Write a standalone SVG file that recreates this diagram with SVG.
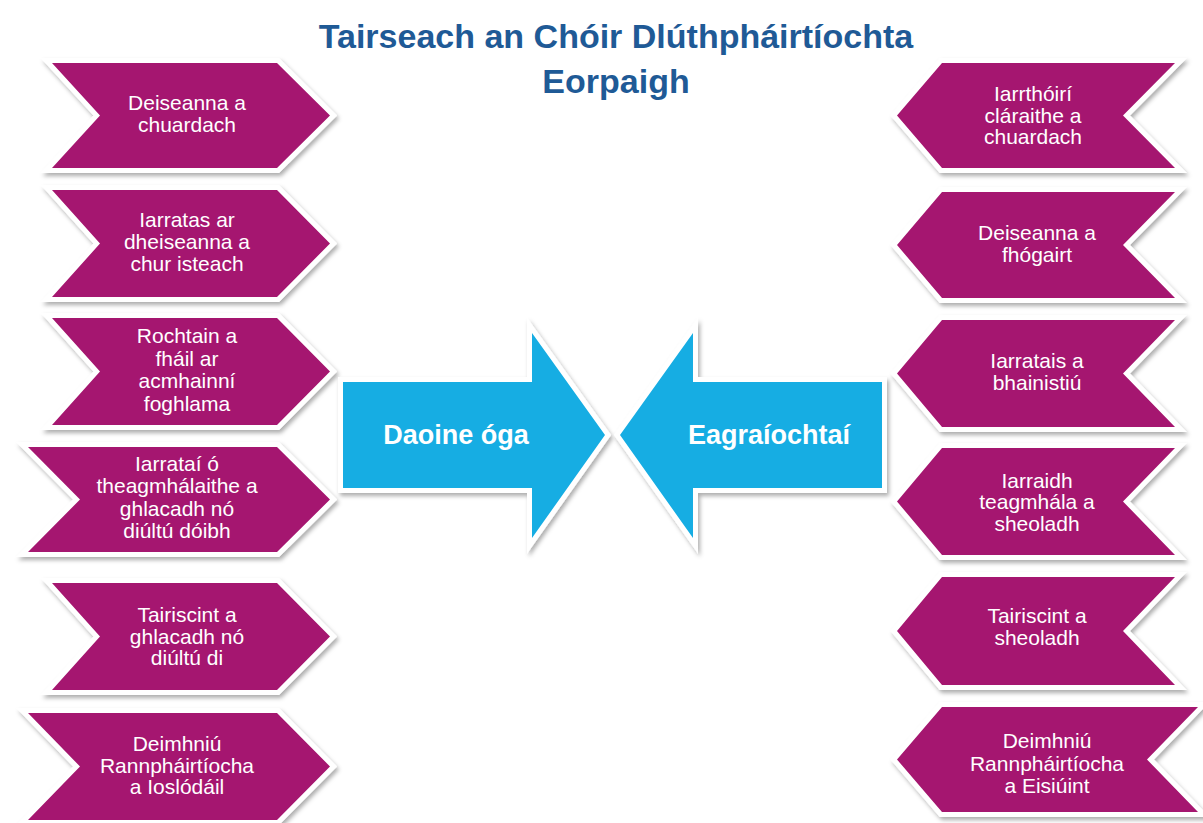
<svg xmlns="http://www.w3.org/2000/svg" width="1203" height="823" viewBox="0 0 1203 823">
<defs>
<filter id="sh" x="-10%" y="-10%" width="125%" height="130%">
<feDropShadow dx="2" dy="3" stdDeviation="2.2" flood-color="#000" flood-opacity="0.32"/>
</filter>
<style>
.chev{fill:#a5176f;stroke:#fff;stroke-width:10;stroke-linejoin:miter;paint-order:stroke;filter:url(#sh)}
.arr{fill:#18ade3;stroke:#fff;stroke-width:10;stroke-linejoin:miter;paint-order:stroke;filter:url(#sh)}
.t{font-family:"Liberation Sans",Arial,sans-serif;font-size:21px;fill:#fff;text-anchor:middle}
.big{font-family:"Liberation Sans",Arial,sans-serif;font-size:27px;font-weight:bold;fill:#fff;text-anchor:middle}
.title{font-family:"Liberation Sans",Arial,sans-serif;font-size:34px;font-weight:bold;fill:#1f5a96;text-anchor:middle}
</style>
</defs>
<rect width="1203" height="823" fill="#fff"/>
<g id="title">
<text class="title" x="616" y="48">Tairseach an Chóir Dlúthpháirtíochta</text>
<text class="title" x="616" y="93">Eorpaigh</text>
</g>
<g id="connectors"></g>
<g id="L1">
<polygon class="chev" points="52,63 277,63 330,115.5 277,168 52,168 100,115.5"/>
<text class="t" x="187" y="110">Deiseanna a</text>
<text class="t" x="187" y="132">chuardach</text>
</g>
<g id="L2">
<polygon class="chev" points="52,190 277,190 330,243.5 277,297 52,297 100,243.5"/>
<text class="t" x="187" y="226.5">Iarratas ar</text>
<text class="t" x="187" y="248.5">dheiseanna a</text>
<text class="t" x="187" y="270.5">chur isteach</text>
</g>
<g id="L3">
<polygon class="chev" points="52,318 277,318 330,371.5 277,425 52,425 100,371.5"/>
<text class="t" x="187" y="343">Rochtain a</text>
<text class="t" x="187" y="365.5">fháil ar</text>
<text class="t" x="187" y="388">acmhainní</text>
<text class="t" x="187" y="410.5">foghlama</text>
</g>
<g id="L4">
<polygon class="chev" points="28,447 277,447 330,499.5 277,552 28,552 80,499.5"/>
<text class="t" x="177" y="470.5">Iarrataí ó</text>
<text class="t" x="177" y="493">theagmhálaithe a</text>
<text class="t" x="177" y="515.5">ghlacadh nó</text>
<text class="t" x="177" y="538">diúltú dóibh</text>
</g>
<g id="L5">
<polygon class="chev" points="52,583 277,583 330,636.5 277,690 52,690 100,636.5"/>
<text class="t" x="187" y="622">Tairiscint a</text>
<text class="t" x="187" y="643.5">ghlacadh nó</text>
<text class="t" x="187" y="665">diúltú di</text>
</g>
<g id="L6">
<polygon class="chev" points="28,713 277,713 330,766.5 277,820 28,820 80,766.5"/>
<text class="t" x="177" y="751">Deimhniú</text>
<text class="t" x="177" y="772.5">Rannpháirtíocha</text>
<text class="t" x="177" y="794">a Ioslódáil</text>
</g>
<g id="R1">
<polygon class="chev" points="942,63 1175,63 1123,115.5 1175,168 942,168 897,115.5"/>
<text class="t" x="1033" y="101">Iarrthóirí</text>
<text class="t" x="1033" y="122.5">cláraithe a</text>
<text class="t" x="1033" y="144">chuardach</text>
</g>
<g id="R2">
<polygon class="chev" points="942,192 1175,192 1123,245 1175,298 942,298 897,245"/>
<text class="t" x="1037" y="240">Deiseanna a</text>
<text class="t" x="1037" y="261.5">fhógairt</text>
</g>
<g id="R3">
<polygon class="chev" points="942,320 1175,320 1123,373.5 1175,427 942,427 897,373.5"/>
<text class="t" x="1037" y="368">Iarratais a</text>
<text class="t" x="1037" y="389.5">bhainistiú</text>
</g>
<g id="R4">
<polygon class="chev" points="942,448 1175,448 1123,501.5 1175,555 942,555 897,501.5"/>
<text class="t" x="1037" y="487.5">Iarraidh</text>
<text class="t" x="1037" y="509">teagmhála a</text>
<text class="t" x="1037" y="530.5">sheoladh</text>
</g>
<g id="R5">
<polygon class="chev" points="942,577 1175,577 1123,631 1175,685 942,685 897,631"/>
<text class="t" x="1037" y="623">Tairiscint a</text>
<text class="t" x="1037" y="644.5">sheoladh</text>
</g>
<g id="R6">
<polygon class="chev" points="942,707 1198,707 1147,759.5 1198,812 942,812 897,759.5"/>
<text class="t" x="1047" y="748">Deimhniú</text>
<text class="t" x="1047" y="771">Rannpháirtíocha</text>
<text class="t" x="1047" y="793">a Eisiúint</text>
</g>
<g id="daoine">
<polygon class="arr" points="343,382 532,382 532,333 605,435 532,538 532,488 343,488"/>
<text class="big" x="456" y="444">Daoine óga</text>
</g>
<g id="eagraiochtai">
<polygon class="arr" points="882,382 693,382 693,333 620,435 693,538 693,488 882,488"/>
<text class="big" x="769" y="444">Eagraíochtaí</text>
</g>
</svg>
